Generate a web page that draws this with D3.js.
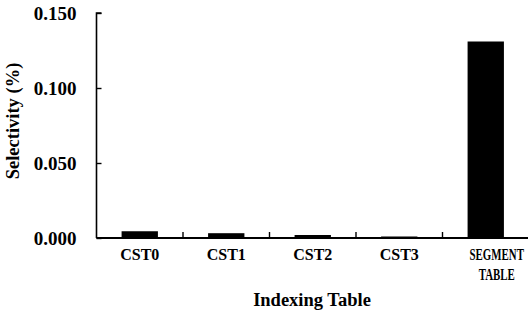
<!DOCTYPE html>
<html>
<head>
<meta charset="utf-8">
<script src="https://cdn.jsdelivr.net/npm/d3@7"></script>
<style>
  html, body { margin: 0; padding: 0; background: #fff; }
  svg { display: block; }
  text { font-family: "Liberation Serif", "Times New Roman", serif; font-weight: bold; fill: #000; }
</style>
</head>
<body>
<svg id="chart" width="528" height="320"></svg>
<script>
const categories = ["CST0", "CST1", "CST2", "CST3", "SEGMENT TABLE"];
const values = [0.0045, 0.0032, 0.002, 0.001, 0.131];
const yTicks = [0, 0.05, 0.10, 0.15];
const yTitle = "Selectivity (%)";
const xTitle = "Indexing Table";

const W = 528, H = 320;
const mLeft = 96.5, mRight = 529, mTop = 13, mBottom = 238;

const svg = d3.select("#chart");

const x = d3.scaleBand().domain(categories).range([mLeft, mRight]).padding(0);
const y = d3.scaleLinear().domain([0, 0.15]).range([mBottom, mTop]);

const barW = x.bandwidth() * 0.42;

// bars
svg.append("g").selectAll("rect")
  .data(categories.map((c, i) => ({ c, v: values[i] })))
  .join("rect")
  .attr("x", d => x(d.c) + (x.bandwidth() - barW) / 2)
  .attr("width", barW)
  .attr("y", d => y(d.v))
  .attr("height", d => y(0) - y(d.v))
  .attr("fill", "#000");

// y axis
const yAxis = d3.axisRight(y).tickValues(yTicks).tickSize(5).tickFormat(d3.format(".3f"));
const gy = svg.append("g").attr("transform", `translate(${mLeft},0)`).call(yAxis);
gy.select(".domain").attr("stroke", "#000").attr("stroke-width", 1.6).attr("d", `M5,${mTop}H0V${mBottom}`);
gy.selectAll(".tick line").attr("stroke", "#000").attr("stroke-width", 1.4);
gy.selectAll(".tick text")
  .attr("x", -20).attr("text-anchor", "end").attr("dy", "0.35em")
  .style("font-size", "19px");

// x axis
const xAxis = d3.axisTop(x).tickSize(0).tickFormat("");
const gx = svg.append("g").attr("transform", `translate(0,${mBottom})`).call(xAxis);
gx.select(".domain").attr("stroke", "#000").attr("stroke-width", 1.8).attr("d", `M${mLeft},0H${W}`);
// category separator ticks (inward, upward)
gx.selectAll(".sep")
  .data(categories.slice(1))
  .join("line")
  .attr("x1", d => x(d)).attr("x2", d => x(d))
  .attr("y1", 0).attr("y2", -6)
  .attr("stroke", "#000").attr("stroke-width", 1.4);

// x tick labels
const lbl = svg.append("g").selectAll("text")
  .data(categories)
  .join("text")
  .attr("text-anchor", "middle")
  .style("font-size", "16px");
lbl.each(function (d) {
  const words = d.split(" ");
  const t = d3.select(this);
  words.forEach((w, i) => {
    t.append("tspan").attr("x", 0).attr("y", i * 20).text(w);
  });
  const cx = x(d) + x.bandwidth() / 2;
  if (words.length > 1) {
    t.attr("transform", `translate(${cx + 11},${mBottom + 22}) scale(0.68,1)`);
  } else {
    t.attr("transform", `translate(${cx},${mBottom + 22})`);
  }
});

// axis titles
svg.append("text")
  .attr("x", 312)
  .attr("y", 306)
  .attr("text-anchor", "middle")
  .style("font-size", "18.5px")
  .text(xTitle);

svg.append("text")
  .attr("transform", `translate(19,121) rotate(-90)`)
  .attr("text-anchor", "middle")
  .style("font-size", "18.5px")
  .text(yTitle);
</script>
</body>
</html>
